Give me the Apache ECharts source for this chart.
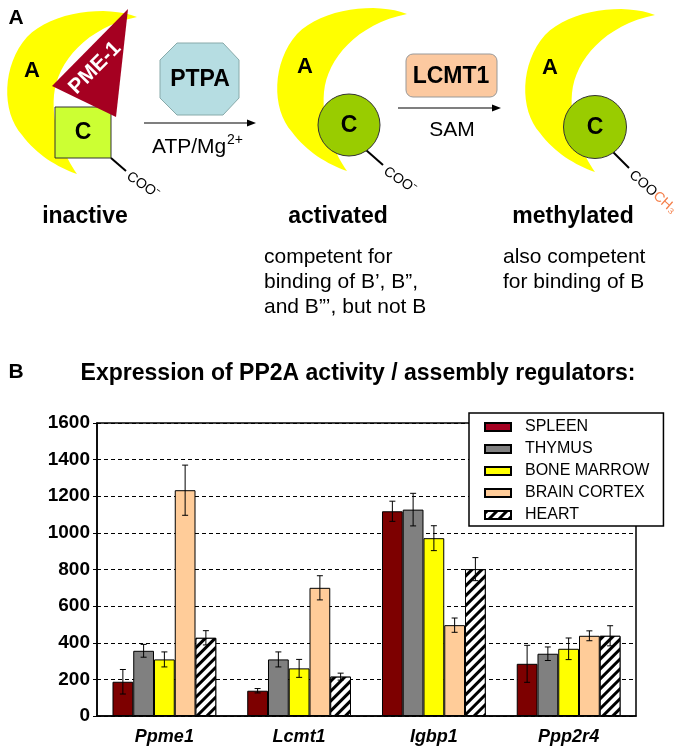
<!DOCTYPE html>
<html>
<head>
<meta charset="utf-8">
<script src="https://cdn.jsdelivr.net/npm/echarts@6/dist/echarts.min.js"></script>
<style>
html, body { margin: 0; padding: 0; background: #fff; }
#main { width: 686px; height: 750px; }
</style>
</head>
<body>
<div id="main"></div>
<script>
// panel B data
var genes = ['Ppme1', 'Lcmt1', 'Igbp1', 'Ppp2r4'];
var tissues = ['SPLEEN', 'THYMUS', 'BONE MARROW', 'BRAIN CORTEX', 'HEART'];
var spleen = [187, 138, 1118, 285];
var thymus = [356, 309, 1127, 340];
var boneMarrow = [309, 260, 971, 367];
var brainCortex = [1233, 700, 496, 438];
var heart = [427, 215, 802, 438];
var spleenErr = [67, 12, 55, 101];
var thymusErr = [35, 41, 89, 37];
var boneMarrowErr = [41, 49, 68, 59];
var brainCortexErr = [137, 66, 39, 27];
var heartErr = [39, 19, 63, 55];
var yMin = 0, yMax = 1600, yStep = 200;

var FONT = '"Liberation Sans", Arial, sans-serif';
var GAP = 0.23;
var values = [spleen, thymus, boneMarrow, brainCortex, heart];
var errors = [spleenErr, thymusErr, boneMarrowErr, brainCortexErr, heartErr];
var colors = ['#7d0000', '#808080', '#ffff00', '#ffcc99', '#ffffff'];

var chart = echarts.init(document.getElementById('main'));

// crescent "A" subunit outline, cubic segments relative to its upper tip
var crescentSegs = [
  [[0, 0], [-30, -12], [-85, -6], [-110, 20]],
  [[-110, 20], [-135, 48], [-136, 95], [-115, 118]],
  [[-115, 118], [-100, 138], [-80, 150], [-60, 157]],
  [[-60, 157], [-72, 140], [-86, 110], [-83, 78]],
  [[-83, 78], [-80, 45], [-50, 10], [0, 0]]
];
function crescentPoints() {
  var pts = [];
  crescentSegs.forEach(function (s) {
    for (var i = 0; i < 16; i++) {
      var t = i / 16, u = 1 - t;
      pts.push([
        u * u * u * s[0][0] + 3 * u * u * t * s[1][0] + 3 * u * t * t * s[2][0] + t * t * t * s[3][0],
        u * u * u * s[0][1] + 3 * u * u * t * s[1][1] + 3 * u * t * t * s[2][1] + t * t * t * s[3][1]
      ]);
    }
  });
  return pts;
}
var crescent = crescentPoints();

function txt(x, y, s, size, weight, extra) {
  var el = {
    type: 'text', x: x, y: y,
    style: {
      text: s, fontSize: size, fontWeight: weight || 'normal', fontFamily: FONT,
      fill: '#000', align: 'center', verticalAlign: 'middle'
    }
  };
  if (extra) {
    if (extra.rotation) el.rotation = extra.rotation;
    for (var k in extra.style || {}) el.style[k] = extra.style[k];
  }
  return el;
}

function arrow(x1, x2, y) {
  return [
    { type: 'line', shape: { x1: x1, y1: y, x2: x2 - 6, y2: y }, style: { stroke: '#000', lineWidth: 1.2 } },
    { type: 'polygon', shape: { points: [[x2, y], [x2 - 9, y - 3.5], [x2 - 9, y + 3.5]] }, style: { fill: '#000' } }
  ];
}

var g = [];
g.push(txt(16, 18, 'A', 21, 'bold'));
g.push(txt(16, 372, 'B', 21, 'bold'));
g.push(txt(358, 374, 'Expression of PP2A activity / assembly regulators:', 23, 'bold'));

// inactive complex
g.push({ type: 'polygon', x: 137, y: 17, shape: { points: crescent }, style: { fill: '#ffff00' } });
g.push(txt(32, 71, 'A', 22, 'bold'));
g.push({ type: 'rect', shape: { x: 55, y: 107, width: 56, height: 51 }, style: { fill: '#ccff33', stroke: '#333', lineWidth: 1 } });
g.push(txt(83, 133, 'C', 23, 'bold'));
g.push({ type: 'polygon', shape: { points: [[128, 9], [52, 86], [116, 117]] }, style: { fill: '#a50021' } });
g.push(txt(95, 68, 'PME-1', 21, 'bold', { rotation: 0.79, style: { fill: '#fff' } }));
g.push({ type: 'line', shape: { x1: 111, y1: 158, x2: 126, y2: 171 }, style: { stroke: '#000', lineWidth: 2 } });
g.push(txt(128, 175, 'COO⁻', 14, 'normal', { rotation: -0.6, style: { align: 'left' } }));
g.push(txt(85, 217, 'inactive', 23, 'bold'));

// PTPA step
g.push({ type: 'polygon', shape: { points: [[177, 43], [223, 43], [239, 60], [239, 98], [223, 115], [177, 115], [160, 98], [160, 60]] },
  style: { fill: '#b6dde2', stroke: '#8aa', lineWidth: 1 } });
g.push(txt(200, 80, 'PTPA', 23, 'bold'));
g = g.concat(arrow(144, 256, 123));
g.push(txt(152, 147, 'ATP/Mg', 21, 'normal', { style: { align: 'left' } }));
g.push(txt(227, 140, '2+', 14, 'normal', { style: { align: 'left' } }));

// activated complex
g.push({ type: 'polygon', x: 407, y: 14, shape: { points: crescent }, style: { fill: '#ffff00' } });
g.push(txt(305, 67, 'A', 22, 'bold'));
g.push({ type: 'line', shape: { x1: 366, y1: 150, x2: 383, y2: 165 }, style: { stroke: '#000', lineWidth: 2 } });
g.push({ type: 'circle', shape: { cx: 349, cy: 125, r: 31 }, style: { fill: '#99cc00', stroke: '#333', lineWidth: 1 } });
g.push(txt(349, 126, 'C', 23, 'bold'));
g.push(txt(385, 170, 'COO⁻', 14, 'normal', { rotation: -0.6, style: { align: 'left' } }));
g.push(txt(338, 217, 'activated', 23, 'bold'));
g.push(txt(264, 257, 'competent for', 21, 'normal', { style: { align: 'left' } }));
g.push(txt(264, 282, 'binding of B’, B”,', 21, 'normal', { style: { align: 'left' } }));
g.push(txt(264, 307, 'and B”’, but not B', 21, 'normal', { style: { align: 'left' } }));

// LCMT1 step
g.push({ type: 'rect', shape: { x: 406, y: 54, width: 91, height: 43, r: 7 }, style: { fill: '#fcc9a0', stroke: '#999', lineWidth: 1 } });
g.push(txt(451, 77, 'LCMT1', 23, 'bold'));
g = g.concat(arrow(398, 501, 108));
g.push(txt(452, 130, 'SAM', 21, 'normal'));

// methylated complex
g.push({ type: 'polygon', x: 655, y: 15, shape: { points: crescent }, style: { fill: '#ffff00' } });
g.push(txt(550, 68, 'A', 22, 'bold'));
g.push({ type: 'line', shape: { x1: 612, y1: 151, x2: 629, y2: 168 }, style: { stroke: '#000', lineWidth: 2 } });
g.push({ type: 'circle', shape: { cx: 595, cy: 127, r: 31.5 }, style: { fill: '#99cc00', stroke: '#333', lineWidth: 1 } });
g.push(txt(595, 128, 'C', 23, 'bold'));
g.push({
  type: 'text', x: 631, y: 173, rotation: -0.72,
  style: {
    text: 'COO{m|CH₃}', fontSize: 14, fontFamily: FONT, fill: '#000', align: 'left', verticalAlign: 'middle',
    rich: { m: { fill: '#f47f4a', color: '#f47f4a', fontSize: 14, fontFamily: FONT } }
  }
});
g.push(txt(573, 217, 'methylated', 23, 'bold'));
g.push(txt(503, 257, 'also competent', 21, 'normal', { style: { align: 'left' } }));
g.push(txt(503, 282, 'for binding of B', 21, 'normal', { style: { align: 'left' } }));

// error bar drawer placed on the grouped bars
function renderErr(params, api) {
  var cat = api.value(0), k = api.value(1), v = api.value(2), e = api.value(3);
  var band = api.size([1, 0])[0];
  var used = band * (1 - GAP);
  var bw = used / tissues.length;
  var cx = api.coord([cat, 0])[0] - used / 2 + bw * (k + 0.5);
  var top = api.coord([cat, v + e])[1];
  var bot = api.coord([cat, v - e])[1];
  var st = { stroke: '#000', lineWidth: 1 };
  return {
    type: 'group', children: [
      { type: 'line', shape: { x1: cx, y1: top, x2: cx, y2: bot }, style: st },
      { type: 'line', shape: { x1: cx - 3, y1: top, x2: cx + 3, y2: top }, style: st },
      { type: 'line', shape: { x1: cx - 3, y1: bot, x2: cx + 3, y2: bot }, style: st }
    ]
  };
}

var errData = [];
for (var k = 0; k < tissues.length; k++) {
  for (var c = 0; c < genes.length; c++) errData.push([c, k, values[k][c], errors[k][c]]);
}

var series = tissues.map(function (name, k) {
  var s = {
    name: name, type: 'bar', data: values[k],
    barGap: '0%', barCategoryGap: (GAP * 100) + '%',
    itemStyle: { color: colors[k], borderColor: '#000', borderWidth: 1 }
  };
  if (name === 'HEART') {
    s.itemStyle.decal = {
      symbol: 'rect', symbolSize: 1, color: '#000', backgroundColor: '#fff',
      dashArrayX: [1, 0], dashArrayY: [2.5, 3.5], rotation: -Math.PI / 4
    };
  }
  return s;
});
series.push({
  type: 'custom', name: 'err', renderItem: renderErr, data: errData, z: 5,
  encode: { x: 0, y: 2 }, silent: true
});

var legendData = tissues.map(function (name) {
  // the legend swatch for spleen is a brighter crimson than the bars
  return name === 'SPLEEN' ? { name: name, itemStyle: { color: '#a50021' } } : { name: name };
});

var option = {
  backgroundColor: '#fff',
  animation: false,
  graphic: g,
  grid: { left: 97, right: 50, top: 423, bottom: 34, show: true, borderColor: '#000', borderWidth: 1.5, backgroundColor: 'transparent' },
  legend: {
    data: legendData, orient: 'vertical', left: 469, top: 413,
    backgroundColor: '#fff', borderColor: '#000', borderWidth: 1.5, borderRadius: 0,
    padding: [6, 14, 3, 15], itemWidth: 26, itemHeight: 8, itemGap: 6, icon: 'rect',
    textStyle: { fontSize: 16, fontFamily: FONT, color: '#000', lineHeight: 16, padding: [0, 0, 0, 9] },
    z: 10
  },
  xAxis: {
    type: 'category', data: genes,
    axisLine: { lineStyle: { color: '#000', width: 1.5 } },
    axisTick: { show: false },
    axisLabel: { fontSize: 18, fontWeight: 'bold', fontStyle: 'italic', fontFamily: FONT, color: '#000', margin: 12 }
  },
  yAxis: {
    type: 'value', min: yMin, max: yMax, interval: yStep,
    axisLine: { show: true, lineStyle: { color: '#000', width: 1.5 } },
    axisTick: { show: true, length: 4, lineStyle: { color: '#000' } },
    axisLabel: {
      fontSize: 19, fontWeight: 'bold', fontFamily: FONT, color: '#000', margin: 7,
      formatter: function (v) { return String(v); }
    },
    splitLine: { show: true, lineStyle: { color: '#000', type: [4, 3], width: 1 } }
  },
  series: series
};
chart.setOption(option);
</script>
</body>
</html>
